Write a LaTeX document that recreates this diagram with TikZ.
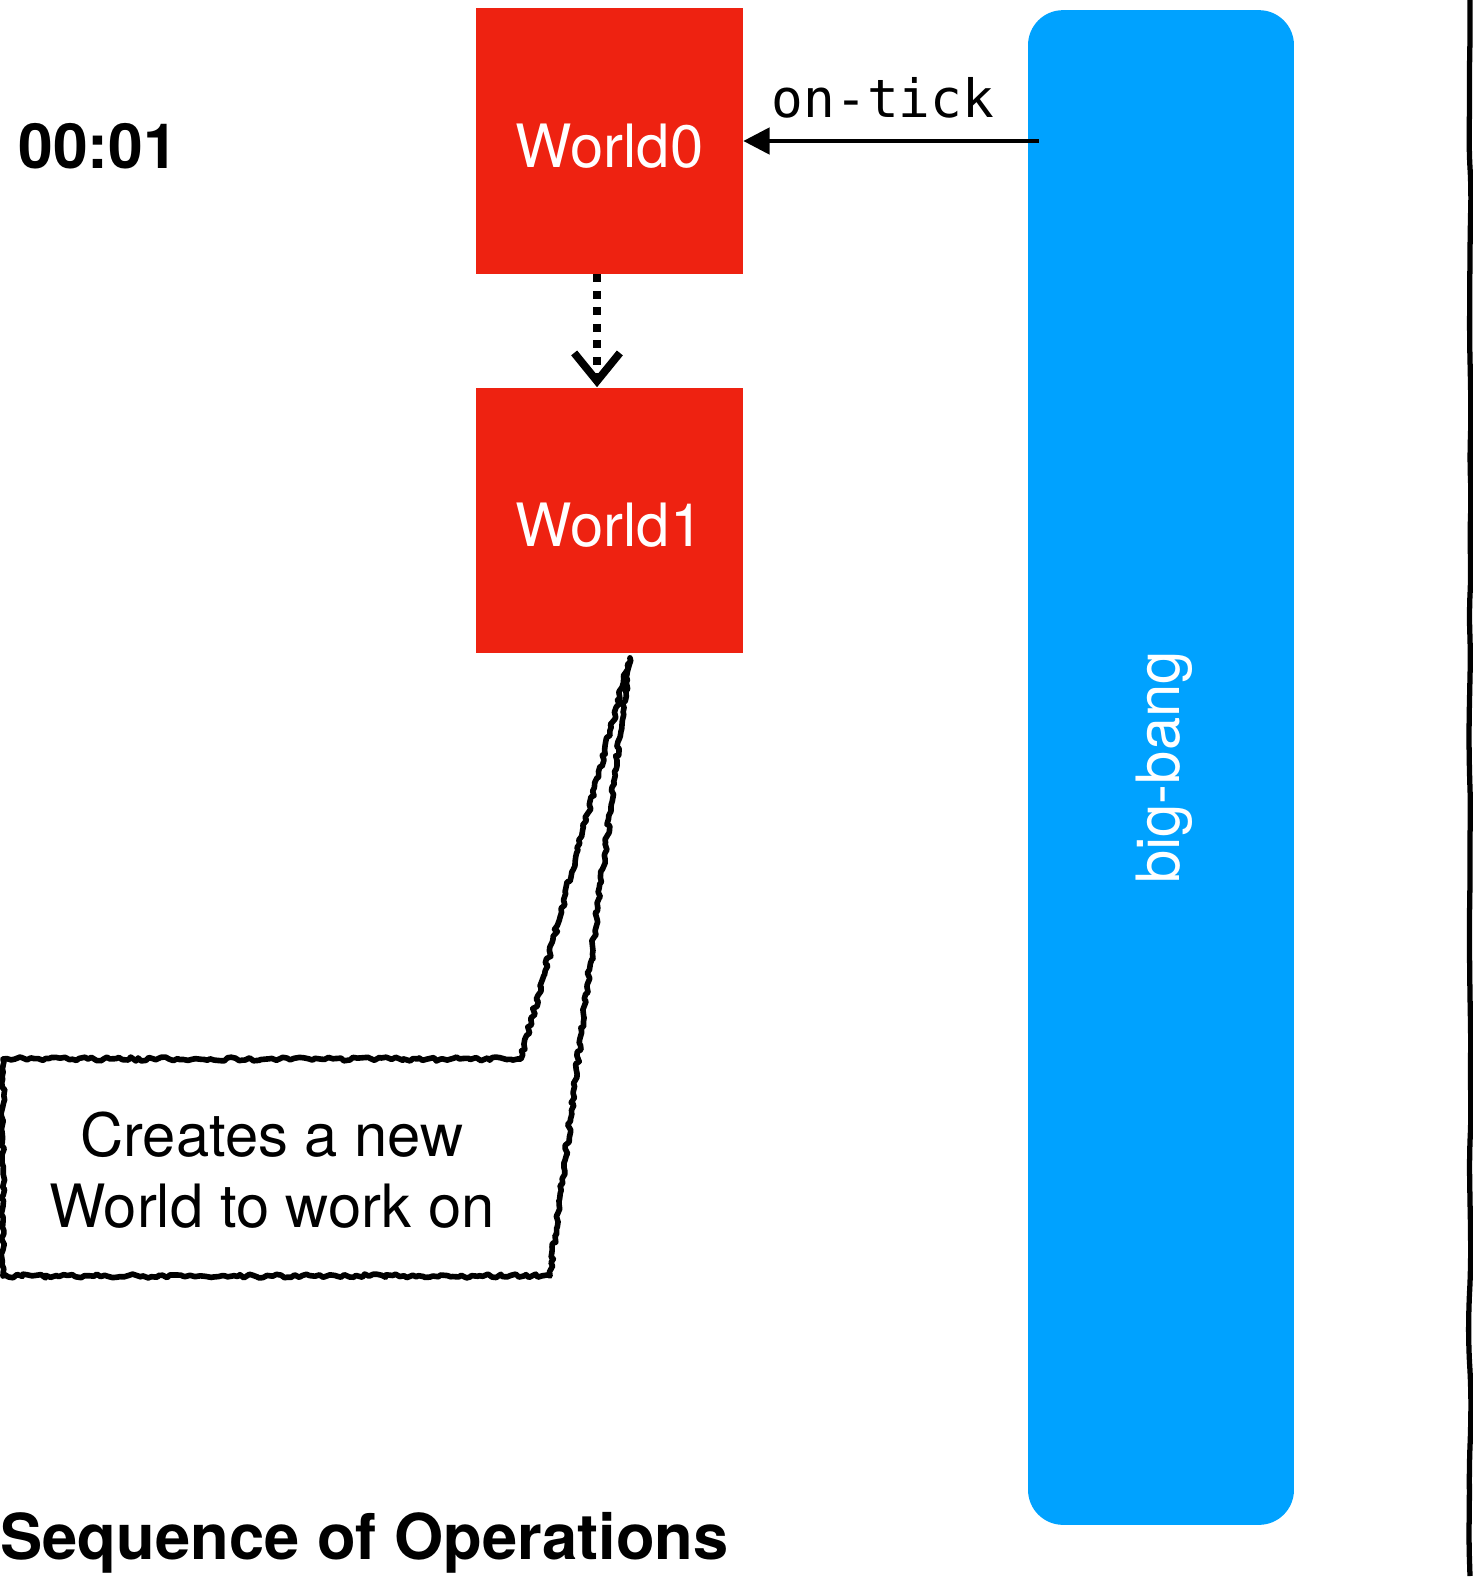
\documentclass[tikz,border=0pt]{standalone}
\usepackage{fontspec}
\setmainfont{TeX Gyre Heros}
\newfontfamily\codefont{DejaVu Sans Mono}
\usetikzlibrary{arrows.meta,decorations.pathmorphing}
\definecolor{worldred}{RGB}{238,34,17}
\definecolor{bangblue}{RGB}{0,162,255}
\begin{document}
\begin{tikzpicture}[x=0.02cm,y=-0.02cm,font=\fontsize{34}{40.4}\selectfont,
        world/.style={fill=worldred,text=white,minimum width=5.34cm,minimum height=5.32cm,inner sep=0,text height=30pt,text depth=0pt},
        rough/.style={line width=3.2pt,line join=round,decorate,decoration={random steps,segment length=2.2pt,amplitude=1.1pt}}]
        \pgfmathsetseed{7}
        \useasboundingbox (0,0) rectangle (1473,1582);
        \def\dotx{-0.25cm}

        \node[world] (w0) at (609.5,141) {World0};
        \node[world] (w1) at (609.5,520.5) {World1};
        \node[fill=bangblue,rounded corners=0.7cm,minimum width=5.32cm,minimum height=30.3cm] (bang) at (1161,767.5) {};
        \node[rotate=90,text=white] (bangtxt) at ([xshift=0.06cm]bang.center) {big-bang};

        \draw[-{Triangle[length=15pt,width=15pt]},line width=2.3pt] ([xshift=0.22cm]bang.west |- w0.east) -- (w0.east);
        \node[anchor=base,font=\fontsize{30}{36}\selectfont\codefont] (tick) at (883,117) {on-tick};
        \draw[-{Straight Barb[length=16pt,width=26pt]},line width=4.4pt,dash pattern=on 4.4pt off 5pt] ([xshift=\dotx]w0.south) -- ([xshift=\dotx]w1.north);

        \node[anchor=base west,inner sep=0,font=\fontsize{35.5}{40}\selectfont\bfseries] (clock) at (18,168) {00:01};
        \node[anchor=base west,inner sep=0,font=\fontsize{36}{40}\selectfont\bfseries] (title) at (0,1559) {Sequence of Operations};

        \node[align=center,inner sep=0] (note) at (272,1170) {Creates a new\\World to work on};
        \coordinate (tip) at ([xshift=0.41cm,yshift=-0.08cm]w1.south);
        \draw[rough] (3,1059) -- (521,1059) -- (tip) -- (550,1276) -- (3,1276) -- cycle;

        \draw[line width=3pt,rounded corners=10pt,decorate,decoration={random steps,segment length=22pt,amplitude=0.8pt}] (1470,-5) -- (1470,1576);
    \end{tikzpicture}
\end{document}
